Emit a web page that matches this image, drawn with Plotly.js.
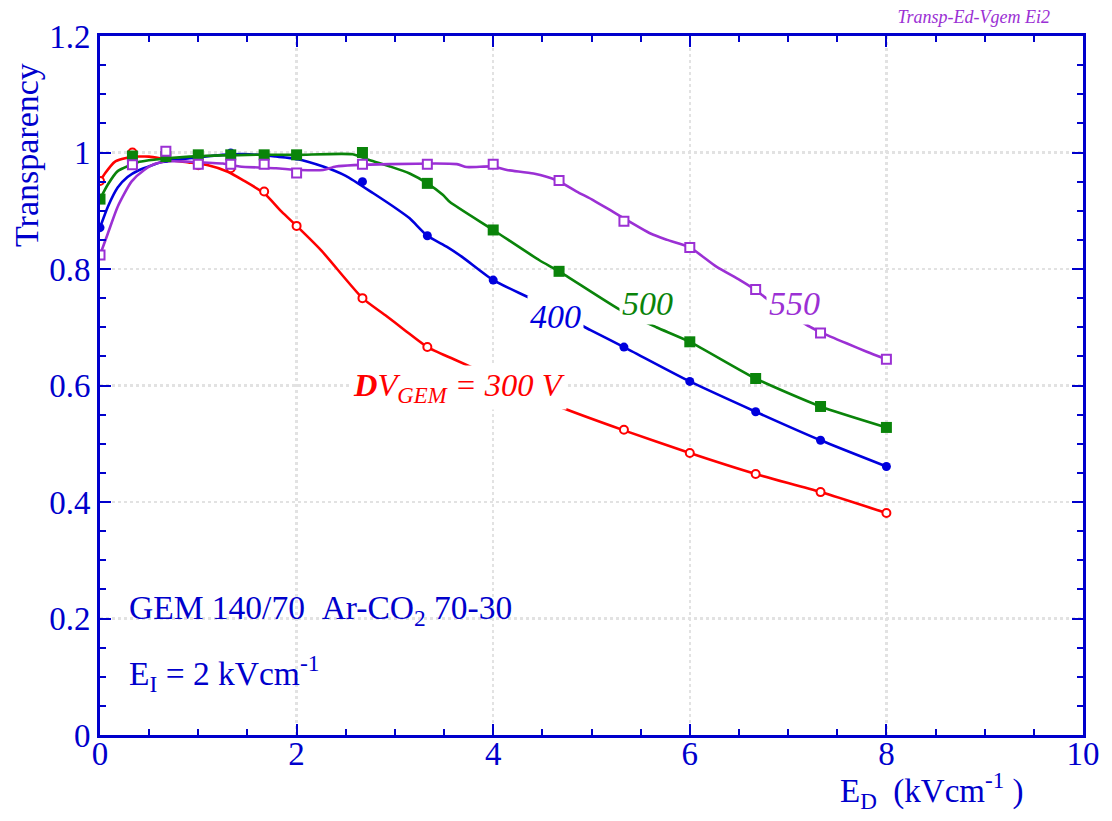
<!DOCTYPE html>
<html>
<head>
<meta charset="utf-8">
<script src="https://cdn.plot.ly/plotly-3.0.1.min.js"></script>
<style>html,body{margin:0;padding:0;background:#fff;}#chart{width:1112px;height:821px;}</style>
</head>
<body>
<div id="chart"></div>
<script>
// ---- data ----
// fitted curves (drawn as lines)
const redCurveX = [0, 0.05, 0.15, 0.3, 0.5, 0.67, 0.9, 1.1, 1.3, 1.45, 1.67, 1.85, 2.0, 2.25, 2.67, 2.9, 3.1, 3.33, 3.6, 4.0, 4.67, 5.33, 6.0, 6.67, 7.33, 8.0];
const redCurveY = [0.951, 0.964, 0.984, 0.992, 0.993, 0.988, 0.983, 0.978, 0.967, 0.953, 0.930, 0.898, 0.874, 0.832, 0.750, 0.721, 0.695, 0.666, 0.645, 0.615, 0.564, 0.523, 0.484, 0.448, 0.417, 0.381];

const blueCurveX = [0, 0.08, 0.18, 0.28, 0.4, 0.64, 0.91, 1.25, 1.52, 1.79, 2.0, 2.27, 2.5, 2.78, 3.02, 3.15, 3.33, 3.53, 3.69, 4.0, 4.41, 4.99, 5.33, 6.0, 6.67, 7.33, 8.0];
const blueCurveY = [0.871, 0.907, 0.940, 0.958, 0.970, 0.984, 0.990, 0.996, 0.997, 0.993, 0.989, 0.976, 0.960, 0.930, 0.903, 0.887, 0.857, 0.838, 0.820, 0.781, 0.747, 0.695, 0.666, 0.607, 0.555, 0.506, 0.461];

const greenCurveX = [0, 0.08, 0.18, 0.4, 0.57, 0.91, 1.5, 2.0, 2.57, 2.74, 2.95, 3.15, 3.33, 3.49, 3.56, 4.0, 4.47, 4.67, 5.3, 5.66, 6.0, 6.67, 7.33, 8.0];
const greenCurveY = [0.920, 0.945, 0.968, 0.984, 0.988, 0.993, 0.996, 0.996, 0.997, 0.987, 0.976, 0.964, 0.947, 0.927, 0.915, 0.867, 0.815, 0.796, 0.729, 0.700, 0.675, 0.612, 0.564, 0.528];

const purpleCurveX = [0, 0.08, 0.18, 0.32, 0.45, 0.57, 0.74, 0.91, 1.25, 1.42, 1.79, 2.03, 2.27, 2.4, 2.95, 3.63, 3.73, 4.0, 4.14, 4.41, 4.65, 4.85, 5.02, 5.22, 5.6, 5.77, 6.0, 6.27, 6.51, 6.66, 6.8, 7.22, 7.35, 7.6, 7.8, 8.0];
const purpleCurveY = [0.824, 0.861, 0.907, 0.950, 0.970, 0.981, 0.985, 0.984, 0.981, 0.976, 0.973, 0.970, 0.970, 0.976, 0.980, 0.980, 0.975, 0.976, 0.970, 0.964, 0.952, 0.933, 0.918, 0.898, 0.861, 0.850, 0.837, 0.804, 0.781, 0.765, 0.747, 0.701, 0.690, 0.672, 0.658, 0.645];

// measured points (markers)
const redX = [0, 0.33, 1.0, 1.33, 1.67, 2.0, 2.67, 3.33, 5.33, 6.0, 6.67, 7.33, 8.0];
const redY = [0.951, 1.0, 0.978, 0.973, 0.933, 0.874, 0.750, 0.666, 0.524, 0.484, 0.448, 0.417, 0.381];

const blueX = [0, 0.67, 1.33, 2.0, 2.67, 3.33, 4.0, 5.33, 6.0, 6.67, 7.33, 8.0];
const blueY = [0.871, 0.990, 0.999, 0.994, 0.950, 0.857, 0.781, 0.666, 0.607, 0.555, 0.506, 0.461];

const greenX = [0, 0.33, 0.67, 1.0, 1.33, 1.67, 2.0, 2.67, 3.33, 4.0, 4.67, 6.0, 6.67, 7.33, 8.0];
const greenY = [0.920, 0.994, 0.993, 0.996, 0.996, 0.996, 0.996, 1.0, 0.947, 0.867, 0.796, 0.675, 0.612, 0.564, 0.528];

const purpleX = [0, 0.33, 0.67, 1.0, 1.33, 1.67, 2.0, 2.67, 3.33, 4.0, 4.67, 5.33, 6.0, 6.67, 7.33, 8.0];
const purpleY = [0.824, 0.979, 1.002, 0.980, 0.980, 0.980, 0.965, 0.980, 0.980, 0.980, 0.952, 0.882, 0.837, 0.765, 0.690, 0.645];

const seriesLabels = ['<b>D</b>V<sub>GEM</sub> = 300 V', '400', '500', '550'];
const xTickVals = [0, 2, 4, 6, 8, 10];
const yTickVals = [0, 0.2, 0.4, 0.6, 0.8, 1, 1.2];
const yTickText = ['0', '0.2', '0.4', '0.6', '0.8', '1', '1.2'];

// ---- styling ----
const RED = '#ff0000', BLUE = '#0000dd', GREEN = '#0a840a', PURPLE = '#9b30d4', AXIS = '#0000cc';
const FONT = 'Liberation Serif, Times New Roman, serif';

function curve(x, y, c) {
  return {x: x, y: y, mode: 'lines', line: {color: c, width: 2.6, shape: 'spline', smoothing: 0.6}, hoverinfo: 'skip', showlegend: false};
}
function pts(x, y, c, sym, size, open) {
  return {x: x, y: y, mode: 'markers', showlegend: false,
    marker: {color: open ? 'white' : c, symbol: sym, size: size, line: {color: c, width: open ? 2 : 0}}};
}

const data = [
  curve(redCurveX, redCurveY, RED),
  curve(blueCurveX, blueCurveY, BLUE),
  curve(greenCurveX, greenCurveY, GREEN),
  curve(purpleCurveX, purpleCurveY, PURPLE),
  pts(redX, redY, RED, 'circle', 8, true),
  pts(blueX, blueY, BLUE, 'circle', 9, false),
  pts(greenX, greenY, GREEN, 'square', 11, false),
  pts(purpleX, purpleY, PURPLE, 'square', 9, true)
];

const axisCommon = {
  showline: true, linecolor: AXIS, linewidth: 3, mirror: 'allticks',
  ticks: 'inside', ticklen: 11, tickwidth: 2, tickcolor: AXIS,
  showgrid: true, gridcolor: '#e2e2e2', gridwidth: 2.5, griddash: 'dot',
  zeroline: false, fixedrange: true,
  tickfont: {family: FONT, size: 33, color: AXIS}
};

const layout = {
  width: 1112, height: 821,
  margin: {l: 100, r: 29, t: 36, b: 86},
  paper_bgcolor: 'white', plot_bgcolor: 'white',
  font: {family: FONT, color: AXIS},
  title: {text: '<i>Transp-Ed-Vgem Ei2</i>', font: {family: FONT, size: 18, color: PURPLE},
          xref: 'container', yref: 'container', x: 1050/1112, xanchor: 'right', y: 1 - 17/821, yanchor: 'middle'},
  xaxis: Object.assign({}, axisCommon, {
    range: [0, 10], tickvals: xTickVals, ticklabelstandoff: -13,
    minor: {dtick: 0.5, ticks: 'inside', ticklen: 6, tickwidth: 2, tickcolor: AXIS, showgrid: false},
    title: {text: ''}
  }),
  yaxis: Object.assign({}, axisCommon, {
    range: [0, 1.2], tickvals: yTickVals, ticktext: yTickText, ticklabelstandoff: 0,
    minor: {dtick: 0.05, ticks: 'inside', ticklen: 6, tickwidth: 2, tickcolor: AXIS, showgrid: false},
    title: {text: ''}
  }),
  annotations: [
    {x: 2.55, y: 0.596, xref: 'x', yref: 'y', xanchor: 'left', yanchor: 'middle', showarrow: false,
     text: '<i>' + seriesLabels[0] + '</i>', font: {family: FONT, size: 32.5, color: RED}, bgcolor: 'white', borderpad: 1},
    {x: 4.63, y: 0.719, xref: 'x', yref: 'y', showarrow: false, text: '<i>' + seriesLabels[1] + '</i>',
     font: {family: FONT, size: 34, color: BLUE}, bgcolor: 'white', borderpad: 2},
    {x: 5.57, y: 0.74, xref: 'x', yref: 'y', showarrow: false, text: '<i>' + seriesLabels[2] + '</i>',
     font: {family: FONT, size: 34, color: GREEN}, bgcolor: 'white', borderpad: 2},
    {x: 7.07, y: 0.74, xref: 'x', yref: 'y', showarrow: false, text: '<i>' + seriesLabels[3] + '</i>',
     font: {family: FONT, size: 34, color: PURPLE}, bgcolor: 'white', borderpad: 2},
    {x: 0.27, y: 0.215, xref: 'x', yref: 'y', xanchor: 'left', yanchor: 'middle', showarrow: false,
     text: 'GEM 140/70\u00a0\u00a0Ar-CO<sub>2</sub> 70-30', font: {family: FONT, size: 33.5, color: AXIS}},
    {x: 0.27, y: 0.105, xref: 'x', yref: 'y', xanchor: 'left', yanchor: 'middle', showarrow: false,
     text: 'E<sub>I</sub> = 2 kVcm<sup>-1</sup>', font: {family: FONT, size: 33.5, color: AXIS}},
    {x: (27 - 100) / 983, y: (735 - 155) / 699, xref: 'paper', yref: 'paper', xanchor: 'center', yanchor: 'middle',
     showarrow: false, textangle: -90, text: 'Transparency', font: {family: FONT, size: 34, color: AXIS}},
    {x: (932 - 100) / 983, y: (735 - 790) / 699, xref: 'paper', yref: 'paper', xanchor: 'center', yanchor: 'middle',
     showarrow: false, text: 'E<sub>D</sub>\u00a0\u00a0(kVcm<sup>-1</sup>\u00a0)', font: {family: FONT, size: 33, color: AXIS}}
  ]
};

Plotly.newPlot('chart', data, layout, {displayModeBar: false, staticPlot: true});
</script>
</body>
</html>
